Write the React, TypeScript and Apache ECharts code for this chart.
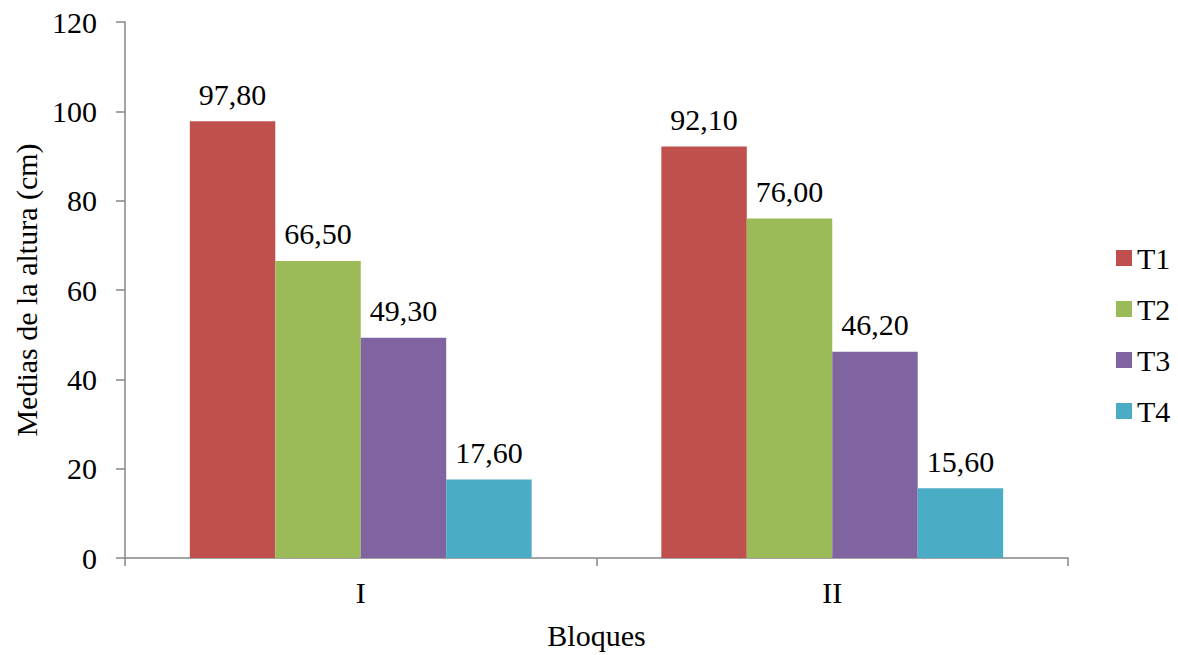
import React, { useEffect, useRef } from "react";
import * as echarts from "echarts";

const categories = ["I", "II"];
const seriesNames = ["T1", "T2", "T3", "T4"];
const t1 = [97.8, 92.1];
const t2 = [66.5, 76.0];
const t3 = [49.3, 46.2];
const t4 = [17.6, 15.6];
const colors = ["#C0504D", "#9BBB59", "#8064A2", "#4BACC6"];
const yTicks = { min: 0, max: 120, interval: 20 };

const FONT = "Liberation Serif";

export default function App() {
  const ref = useRef<HTMLDivElement>(null);
  useEffect(() => {
    if (!ref.current) return;
    const chart = echarts.init(ref.current, undefined, { renderer: "svg" });
    const data = [t1, t2, t3, t4];
    const txt = { fontFamily: FONT, fontSize: 30, color: "#000" };
    chart.setOption({
      animation: false,
      textStyle: { fontFamily: FONT, color: "#000" },
      grid: { left: 125, right: 110, top: 22, bottom: 95 },
      legend: {
        orient: "vertical",
        left: 1111,
        top: 238,
        itemWidth: 16,
        itemHeight: 16,
        itemGap: 21,
        icon: "rect",
        textStyle: { ...txt },
        data: seriesNames,
      },
      xAxis: {
        type: "category",
        data: categories,
        name: "Bloques",
        nameLocation: "middle",
        nameGap: 62,
        nameTextStyle: { ...txt },
        axisLine: { lineStyle: { color: "#868686", width: 1.5 } },
        axisTick: { show: true, length: 8, lineStyle: { color: "#868686", width: 1.5 } },
        axisLabel: { ...txt, margin: 19 },
      },
      yAxis: {
        type: "value",
        min: yTicks.min,
        max: yTicks.max,
        interval: yTicks.interval,
        name: "Medias de la altura (cm)",
        nameLocation: "middle",
        nameGap: 80,
        nameTextStyle: { ...txt },
        axisLine: { show: true, lineStyle: { color: "#868686", width: 1.5 } },
        axisTick: { show: true, length: 9, lineStyle: { color: "#868686", width: 1.5 } },
        axisLabel: { ...txt, margin: 28 },
        splitLine: { show: false },
      },
      series: seriesNames.map((name, i) => ({
        name,
        type: "bar",
        data: data[i],
        barGap: "0%",
        barCategoryGap: "27.5%",
        itemStyle: { color: colors[i] },
        label: {
          show: true,
          position: "top",
          distance: 12,
          ...txt,
          formatter: (p: any) => Number(p.value).toFixed(2).replace(".", ","),
        },
      })),
    });
    return () => chart.dispose();
  }, []);
  return <div ref={ref} style={{ width: 1178, height: 655, position: "absolute", left: 0, top: 0 }} />;
}
